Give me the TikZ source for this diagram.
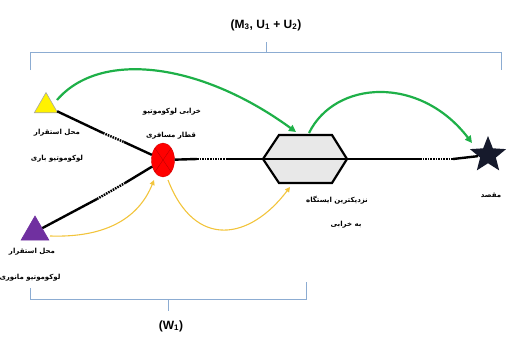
\documentclass[tikz,border=0pt]{standalone}
\usepackage{fontspec}
\setmainfont{Liberation Sans}
\newfontfamily\farsi[Script=Arabic]{DejaVu Sans}
\TeXXeTstate=1
\usetikzlibrary{shapes.geometric,arrows.meta}
\definecolor{bracecol}{RGB}{140,172,210}
\definecolor{grn}{RGB}{30,176,72}
\definecolor{ylw}{RGB}{242,196,60}
\definecolor{prp}{RGB}{112,48,160}
\definecolor{navy}{RGB}{22,26,44}
\tikzset{
	fa/.style={font=\farsi\bfseries\fontsize{7}{8}\selectfont},
	track/.style={line width=2.4pt,black},
	dots/.style={line width=2.4pt,black,dash pattern=on 1.6pt off 1pt},
	greenarr/.style={draw=grn,line width=2.2pt,-{Triangle[length=7pt,width=7pt]}},
	yellowarr/.style={draw=ylw,line width=1.1pt,-{Triangle[length=5pt,width=5pt]}},
	brace/.style={draw=bracecol,line width=0.9pt},
	yard/.style={regular polygon,regular polygon sides=3,inner sep=0pt,draw=gray!70,line width=0.6pt}
}
\begin{document}
		\begin{tikzpicture}[x=1pt,y=-1pt]
			\useasboundingbox (0,0) rectangle (508,337);
			\coordinate (t1) at (103,133);
			\coordinate (t2) at (124,142);
			\coordinate (p1) at (97,199);
			\coordinate (p2) at (125,183);
			\coordinate (m1) at (197,159);
			\coordinate (m2) at (227,159);
			\coordinate (m3) at (420,159);
			\coordinate (m4) at (453,159);
			\coordinate (h1) at (263,159);
			\coordinate (h2) at (279,135);
			\coordinate (h3) at (332,135);
			\coordinate (h4) at (347,159);
			\coordinate (h5) at (332,183);
			\coordinate (h6) at (279,183);
			\coordinate (g1) at (57,100);
			\coordinate (g2) at (296,132);
			\coordinate (g3) at (309,133);
			\coordinate (g4) at (472,143);
			\coordinate (y1) at (50,236);
			\coordinate (y2) at (154,180);
			\coordinate (y3) at (168,180);
			\coordinate (y4) at (290,187);
			\draw[brace] (30,70) -- (30,52) -- (501,52) -- (501,70);
			\draw[brace] (266,52) -- (266,42);
			\draw[brace] (30,288) -- (30,299) -- (306,299) -- (306,282);
			\draw[brace] (168,299) -- (168,311);
			\node (top) at (266,25) {\fontsize{12}{14}\selectfont\textbf{(M\textsubscript{3}, U\textsubscript{1} + U\textsubscript{2})}};
			\node (bot) at (171,326) {\fontsize{12}{14}\selectfont\textbf{(W\textsubscript{1})}};
			\fill[gray!18] (h1) -- (h2) -- (h3) -- (h4) -- (h5) -- (h6) -- cycle;
			\node[yard,fill=yellow,minimum size=27pt] (yard1) at (46,106) {};
			\node[yard,fill=prp,draw=prp,minimum size=32pt] (yard2) at (35,232) {};
			\node[ellipse,fill=red,draw=red!85!black,minimum width=23pt,minimum height=34pt,inner sep=0pt] (fail) at (163,160) {};
			\draw[red!70!black,line width=0.3pt] (fail.north west) -- (fail.south east) (fail.north east) -- (fail.south west);
			\node[star,star points=5,star point ratio=2.3,fill=navy,minimum size=38pt,inner sep=0pt] (dest) at (488,155) {};
			\draw[track] (yard1) -- (t1);
			\draw[dots] (t1) -- (t2);
			\draw[track] (t2) -- (fail);
			\draw[track] (yard2) -- (p1);
			\draw[dots] (p1) -- (p2);
			\draw[track] (p2) -- (fail);
			\draw[track] (fail) -- (m1);
			\draw[dots] (m1) -- (m2);
			\draw[track] (m2) -- (h1);
			\draw[line width=1.6pt] (h1) -- (h4);
			\draw[track] (h4) -- (m3);
			\draw[dots] (m3) -- (m4);
			\draw[track] (m4) -- (dest);
			\draw[line width=2.2pt,line join=miter] (h1) -- (h2) -- (h3) -- (h4) -- (h5) -- (h6) -- cycle;
			\draw[greenarr] (g1) .. controls (100,50) and (200,62) .. (g2);
			\draw[greenarr] (g3) .. controls (335,80) and (420,75) .. (g4);
			\draw[yellowarr] (y1) .. controls (110,238) and (140,215) .. (y2);
			\draw[yellowarr] (y3) .. controls (195,250) and (250,240) .. (y4);
			\node[fa] (lab1) at (57,133) {\beginR محل استقرار\endR};
			\node[fa] (lab2) at (57,159) {\beginR لوکوموتیو باری\endR};
			\node[fa] (lab3) at (32,252) {\beginR محل استقرار\endR};
			\node[fa] (lab4) at (30,278) {\beginR لوکوموتیو مانوری\endR};
			\node[fa] (lab5) at (172,112) {\beginR خرابی لوکوموتیو\endR};
			\node[fa] (lab6) at (171,136) {\beginR قطار مسافری\endR};
			\node[fa] (lab7) at (337,200) {\beginR نزدیکترین ایستگاه\endR};
			\node[fa] (lab8) at (346,225) {\beginR به خرابی\endR};
			\node[fa] (lab9) at (491,195) {\beginR مقصد\endR};
		\end{tikzpicture}
\end{document}
